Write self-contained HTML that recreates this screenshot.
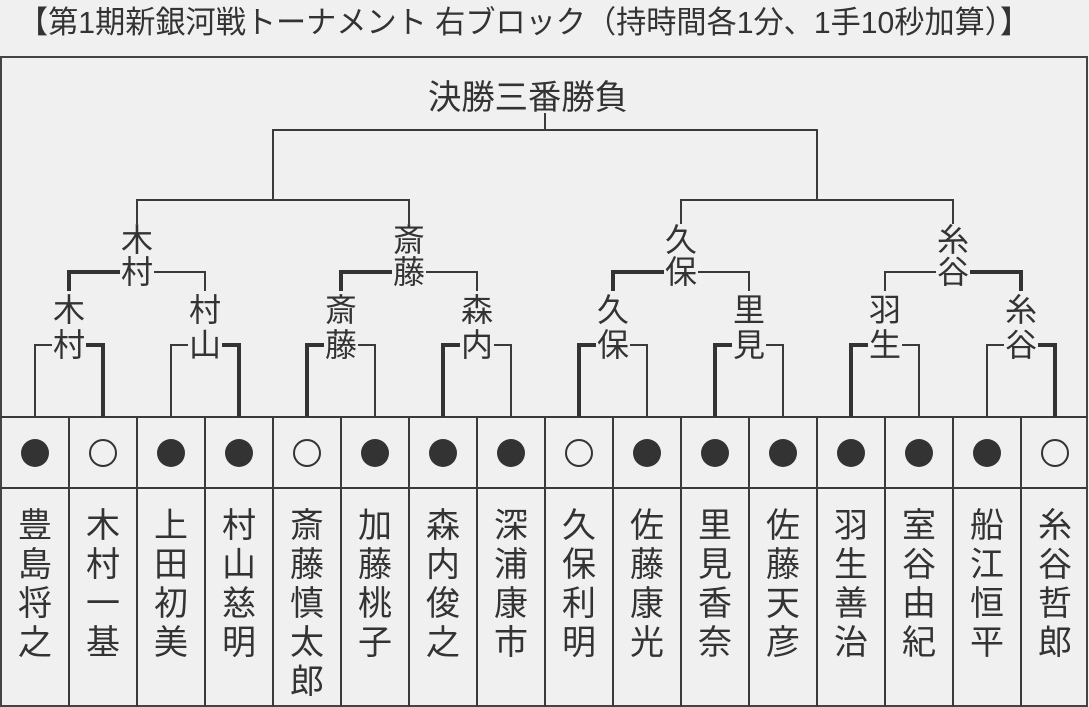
<!DOCTYPE html>
<html><head><meta charset="utf-8"><style>
html,body{margin:0;padding:0;background:#f0f0f0;}
svg{display:block;}
text{font-family:"Liberation Sans","Noto Sans CJK JP",sans-serif;fill:#333;}
</style></head><body>
<svg width="1089" height="707" viewBox="0 0 1089 707" xmlns="http://www.w3.org/2000/svg">
<rect x="0" y="0" width="1089" height="707" fill="#f0f0f0"/>
<text x="18" y="33" font-size="31" textLength="1012" lengthAdjust="spacingAndGlyphs">【第1期新銀河戦トーナメント 右ブロック（持時間各1分、1手10秒加算）】</text>
<rect x="1" y="57" width="1086" height="649" fill="none" stroke="#444" stroke-width="2"/>
<g fill="none" stroke="#3a3a3a" stroke-width="2">
<path d="M1,417H1087M1,488H1087"/>
<path d="M69,417V707M137,417V707M205,417V707M273,417V707M341,417V707M409,417V707M477,417V707M545,417V707M613,417V707M681,417V707M749,417V707M817,417V707M885,417V707M953,417V707M1021,417V707"/>
<path d="M35,417V345H52M358,345H375V417M494,345H511V417M630,345H647V417M766,345H783V417M902,345H919V417M987,417V345H1004M171,417V345H188"/>
<path d="M154,272H205V291M426,272H477V291M698,272H749V291M885,291V272H936"/>
<path d="M137,224V200H409V224M681,224V200H953V224M273,200V130H817V200M545,113V130"/>
</g>
<g fill="none" stroke="#333" stroke-width="4">
<path d="M86,345H103V417M222,345H239V417M307,417V345H324M443,417V345H460M579,417V345H596M715,417V345H732M851,417V345H868M1038,345H1055V417"/>
<path d="M69,291V272H120M341,291V272H392M613,291V272H664M970,272H1021V291"/>
</g>
<text x="428" y="109" font-size="34" textLength="200" lengthAdjust="spacingAndGlyphs">決勝三番勝負</text>
<g font-size="32" text-anchor="middle" dominant-baseline="central">
<text x="69" y="310">木</text><text x="69" y="345">村</text>
<text x="205" y="310">村</text><text x="205" y="345">山</text>
<text x="341" y="310">斎</text><text x="341" y="345">藤</text>
<text x="477" y="310">森</text><text x="477" y="345">内</text>
<text x="613" y="310">久</text><text x="613" y="345">保</text>
<text x="749" y="310">里</text><text x="749" y="345">見</text>
<text x="885" y="310">羽</text><text x="885" y="345">生</text>
<text x="1021" y="310">糸</text><text x="1021" y="345">谷</text>
<text x="137" y="240">木</text><text x="137" y="272">村</text>
<text x="409" y="240">斎</text><text x="409" y="272">藤</text>
<text x="681" y="240">久</text><text x="681" y="272">保</text>
<text x="953" y="240">糸</text><text x="953" y="272">谷</text>
</g>
<g fill="#333">
<circle cx="35" cy="453" r="14"/>
<circle cx="171" cy="453" r="14"/>
<circle cx="239" cy="453" r="14"/>
<circle cx="375" cy="453" r="14"/>
<circle cx="443" cy="453" r="14"/>
<circle cx="511" cy="453" r="14"/>
<circle cx="647" cy="453" r="14"/>
<circle cx="715" cy="453" r="14"/>
<circle cx="783" cy="453" r="14"/>
<circle cx="851" cy="453" r="14"/>
<circle cx="919" cy="453" r="14"/>
<circle cx="987" cy="453" r="14"/>
</g>
<g fill="none" stroke="#333" stroke-width="2">
<circle cx="103" cy="453" r="13"/>
<circle cx="307" cy="453" r="13"/>
<circle cx="579" cy="453" r="13"/>
<circle cx="1055" cy="453" r="13"/>
</g>
<g font-size="34" text-anchor="middle" dominant-baseline="central">
<text x="35" y="526">豊</text><text x="35" y="565">島</text><text x="35" y="604">将</text><text x="35" y="643">之</text>
<text x="103" y="526">木</text><text x="103" y="565">村</text><text x="103" y="604">一</text><text x="103" y="643">基</text>
<text x="171" y="526">上</text><text x="171" y="565">田</text><text x="171" y="604">初</text><text x="171" y="643">美</text>
<text x="239" y="526">村</text><text x="239" y="565">山</text><text x="239" y="604">慈</text><text x="239" y="643">明</text>
<text x="307" y="526">斎</text><text x="307" y="565">藤</text><text x="307" y="604">慎</text><text x="307" y="643">太</text><text x="307" y="682">郎</text>
<text x="375" y="526">加</text><text x="375" y="565">藤</text><text x="375" y="604">桃</text><text x="375" y="643">子</text>
<text x="443" y="526">森</text><text x="443" y="565">内</text><text x="443" y="604">俊</text><text x="443" y="643">之</text>
<text x="511" y="526">深</text><text x="511" y="565">浦</text><text x="511" y="604">康</text><text x="511" y="643">市</text>
<text x="579" y="526">久</text><text x="579" y="565">保</text><text x="579" y="604">利</text><text x="579" y="643">明</text>
<text x="647" y="526">佐</text><text x="647" y="565">藤</text><text x="647" y="604">康</text><text x="647" y="643">光</text>
<text x="715" y="526">里</text><text x="715" y="565">見</text><text x="715" y="604">香</text><text x="715" y="643">奈</text>
<text x="783" y="526">佐</text><text x="783" y="565">藤</text><text x="783" y="604">天</text><text x="783" y="643">彦</text>
<text x="851" y="526">羽</text><text x="851" y="565">生</text><text x="851" y="604">善</text><text x="851" y="643">治</text>
<text x="919" y="526">室</text><text x="919" y="565">谷</text><text x="919" y="604">由</text><text x="919" y="643">紀</text>
<text x="987" y="526">船</text><text x="987" y="565">江</text><text x="987" y="604">恒</text><text x="987" y="643">平</text>
<text x="1055" y="526">糸</text><text x="1055" y="565">谷</text><text x="1055" y="604">哲</text><text x="1055" y="643">郎</text>
</g>
</svg>
</body></html>
